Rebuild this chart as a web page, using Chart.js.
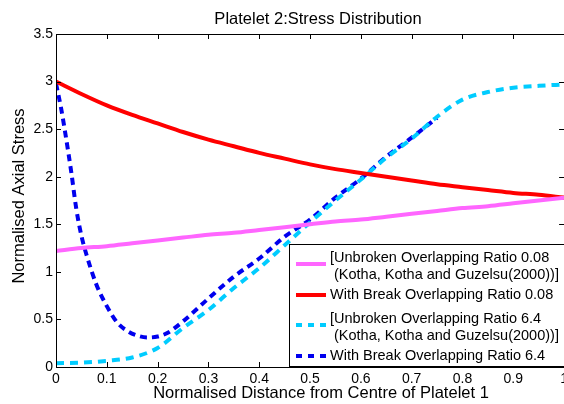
<!DOCTYPE html>
<html>
<head>
<meta charset="utf-8">
<script src="https://cdn.jsdelivr.net/npm/chart.js@4"></script>
<style>
    html, body { margin: 0; padding: 0; background: #fff; overflow: hidden; }
    #wrap { position: absolute; left: 0; top: 0; width: 572px; height: 404px; }
</style>
</head>
<body>
<div id="wrap"><canvas id="stressChart"></canvas></div>
<script>

/*
=====================================
DATA
=====================================
*/

const distance = [0, 0.05, 0.1, 0.15, 0.2, 0.25, 0.3, 0.35, 0.4, 0.45, 0.5,
    0.55, 0.6, 0.65, 0.7, 0.75, 0.8, 0.85, 0.9, 0.95, 1];

const unbroken008 = [1.22, 1.25, 1.27, 1.30, 1.33, 1.36, 1.39, 1.41, 1.44, 1.47, 1.50,
    1.53, 1.55, 1.58, 1.61, 1.64, 1.67, 1.69, 1.72, 1.75, 1.78];

const break008 = [3.00, 2.87, 2.75, 2.65, 2.56, 2.47, 2.39, 2.32, 2.25, 2.19, 2.13,
    2.08, 2.04, 2.00, 1.96, 1.92, 1.89, 1.86, 1.83, 1.81, 1.78];

const unbroken64 = [0.04, 0.045, 0.065, 0.10, 0.20, 0.41, 0.60, 0.83, 1.04, 1.28, 1.52,
    1.75, 1.97, 2.20, 2.40, 2.63, 2.81, 2.89, 2.935, 2.955, 2.97];

const breakDistance = [0, 0.01, 0.02, 0.03, 0.04, 0.05, 0.06, 0.08, 0.1, 0.12, 0.14,
    0.16, 0.18, 0.2, 0.22, 0.25, 0.3, 0.35, 0.4, 0.45, 0.5, 0.55, 0.6, 0.65, 0.7, 0.75];

const break64 = [2.98, 2.72, 2.40, 2.05, 1.66, 1.38, 1.18, 0.86, 0.64, 0.47, 0.38,
    0.33, 0.31, 0.32, 0.36, 0.48, 0.72, 0.95, 1.14, 1.37, 1.55, 1.78, 1.98, 2.21, 2.41, 2.62];

const legendLabels = [
    ["[Unbroken Overlapping Ratio 0.08", " (Kotha, Kotha and Guzelsu(2000))]"],
    ["With Break Overlapping Ratio 0.08"],
    ["[Unbroken Overlapping Ratio 6.4", " (Kotha, Kotha and Guzelsu(2000))]"],
    ["With Break Overlapping Ratio 6.4"]
];

const chartTitle = "Platelet 2:Stress Distribution";
const xTitle = "Normalised Distance from Centre of Platelet 1";
const yTitle = "Normalised Axial Stress";

const FONT = "'Liberation Sans', Arial, sans-serif";

function points(xs, ys) {
    return xs.map((x, i) => ({ x: x, y: ys[i] }));
}

/*
=====================================
FRAME, TICKS, TITLES, LEGEND
=====================================
*/

const matlabFrame = {
    id: "matlabFrame",
    afterDraw(chart) {
        const ctx = chart.ctx;
        const area = chart.chartArea;
        const xs = chart.scales.x;
        const ys = chart.scales.y;
        const tick = 5;

        ctx.save();
        ctx.strokeStyle = "#000";
        ctx.lineWidth = 1;
        ctx.setLineDash([]);

        ctx.beginPath();
        xs.ticks.forEach(t => {
            const px = Math.round(xs.getPixelForValue(t.value)) + 0.5;
            ctx.moveTo(px, area.bottom);
            ctx.lineTo(px, area.bottom - tick);
            ctx.moveTo(px, area.top);
            ctx.lineTo(px, area.top + tick);
        });
        ys.ticks.forEach(t => {
            const py = Math.round(ys.getPixelForValue(t.value)) + 0.5;
            ctx.moveTo(area.left, py);
            ctx.lineTo(area.left + tick, py);
            ctx.moveTo(area.right, py);
            ctx.lineTo(area.right - tick, py);
        });
        ctx.stroke();

        ctx.strokeRect(Math.round(area.left) + 0.5, Math.round(area.top) + 0.5,
            Math.round(area.right - area.left), Math.round(area.bottom - area.top));

        // titles
        ctx.fillStyle = "#000";
        ctx.font = "16.5px " + FONT;
        ctx.textAlign = "center";
        ctx.textBaseline = "middle";
        ctx.fillText(chartTitle, 318, 19);
        ctx.fillText(xTitle, 321, 393);

        ctx.save();
        ctx.translate(19, 196);
        ctx.rotate(-Math.PI / 2);
        ctx.fillText(yTitle, 0, 0);
        ctx.restore();

        // legend
        const box = { left: 289.5, top: 244.5, right: 570, bottom: 366.5 };
        ctx.fillStyle = "#fff";
        ctx.fillRect(box.left, box.top, box.right - box.left, box.bottom - box.top);
        ctx.strokeRect(box.left, box.top, box.right - box.left, box.bottom - box.top);

        const rows = [
            { line: 264, text: [258, 275] },
            { line: 295, text: [295] },
            { line: 325, text: [319, 336] },
            { line: 356, text: [356] }
        ];

        ctx.font = "14.5px " + FONT;
        ctx.textAlign = "left";

        chart.data.datasets.forEach((ds, i) => {
            const row = rows[i];
            ctx.strokeStyle = ds.borderColor;
            ctx.lineWidth = ds.borderWidth;
            ctx.setLineDash(ds.borderDash ? [6, 6] : []);
            ctx.beginPath();
            ctx.moveTo(296, row.line);
            ctx.lineTo(326, row.line);
            ctx.stroke();

            ctx.fillStyle = "#000";
            legendLabels[i].forEach((txt, j) => {
                ctx.fillText(txt, 330, row.text[j]);
            });
        });

        ctx.restore();
    }
};

/*
=====================================
CHART
=====================================
*/

new Chart(document.getElementById("stressChart"), {

    type: "line",

    data: {
        datasets: [
            {
                data: points(distance, unbroken008),
                borderColor: "#ff66ff",
                borderWidth: 4
            },
            {
                data: points(distance, break008),
                borderColor: "#ff0000",
                borderWidth: 4
            },
            {
                data: points(distance, unbroken64),
                borderColor: "#00ccff",
                borderWidth: 4,
                borderDash: [8, 6]
            },
            {
                data: points(breakDistance, break64),
                borderColor: "#0000ee",
                borderWidth: 4,
                borderDash: [7, 5]
            }
        ]
    },

    options: {

        responsive: true,
        maintainAspectRatio: false,
        animation: false,

        elements: {
            point: { radius: 0 },
            line: { cubicInterpolationMode: "monotone", fill: false }
        },

        layout: {
            padding: { top: 34, left: 0, right: 0, bottom: 2 }
        },

        plugins: {
            legend: { display: false },
            title: { display: false },
            tooltip: { enabled: false }
        },

        scales: {

            x: {
                type: "linear",
                min: 0,
                max: 1,
                grid: { display: false, drawTicks: false },
                border: { display: false },
                ticks: {
                    stepSize: 0.1,
                    color: "#000",
                    padding: 4,
                    maxRotation: 0,
                    font: { family: FONT, size: 14 },
                    callback: value => String(value)
                },
                afterFit(scale) {
                    scale.height = 35;
                }
            },

            y: {
                min: 0,
                max: 3.5,
                grid: { display: false, drawTicks: false },
                border: { display: false },
                ticks: {
                    stepSize: 0.5,
                    color: "#000",
                    padding: 3,
                    font: { family: FONT, size: 14 },
                    callback: value => String(value)
                },
                afterFit(scale) {
                    scale.width = 56;
                }
            }

        }

    },

    plugins: [matlabFrame]

});

</script>
</body>
</html>
